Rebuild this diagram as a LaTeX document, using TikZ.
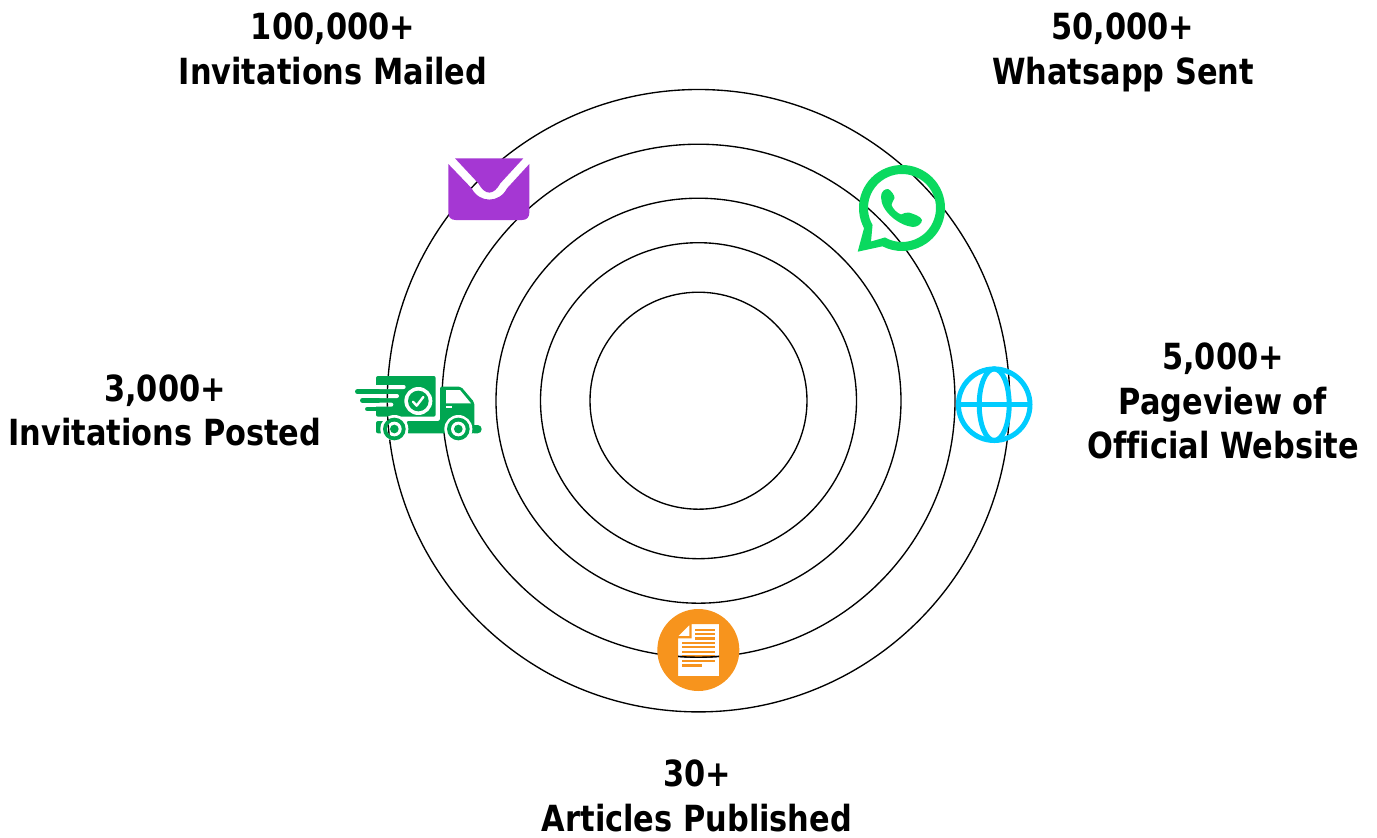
\documentclass[tikz,border=0pt]{standalone}
\usepackage{fontspec}
\usetikzlibrary{calc}
\setmainfont[FakeStretch=0.845,Ligatures=CommonOff]{DejaVu Sans Bold}
\definecolor{mailc}{HTML}{A537D3}
\definecolor{wac}{HTML}{0AD95F}
\definecolor{globec}{HTML}{00CCFF}
\definecolor{truckc}{HTML}{00A651}
\definecolor{docc}{HTML}{F7941D}
\tikzset{
  ring/.style={draw=black,line width=1.35pt},
  lbl/.style={align=center,inner sep=0pt,font=\fontsize{36}{44.5}\selectfont},
  zoomed/.style={scale=0.33333},
  bar/.style={draw=truckc,line width=4.6pt,line cap=round},
  docline/.style={fill=docc}
}
\begin{document}
\begin{tikzpicture}[x=1pt,y=1pt,yscale=-1]
\useasboundingbox (0,0) rectangle (1377,838);
\coordinate (c) at (698.5,400.7);
\foreach \r in {311.2,256.5,202.5,158,108.5}{\draw[ring] (c) circle[radius=\r];}
% mail
\begin{scope}[shift={(430,140)},zoomed]
  \fill[mailc] (75,55) -- (280,55) -- (211,130) .. controls (191,167) and (165,167) .. (145,130) -- cycle;
  \fill[mailc] (55,72) -- (125,145) .. controls (148,190) and (208,190) .. (231,145) -- (298,72) -- (298,218) .. controls (298,232) and (290,240) .. (276,240) -- (77,240) .. controls (63,240) and (55,232) .. (55,218) -- cycle;
\end{scope}
% whatsapp
\fill[wac,even odd rule] (902,208) ++(152:43) arc[start angle=152,end angle=477,radius=43] -- (857.7,251.7) -- cycle
  (902,208) ++(150:34) arc[start angle=150,end angle=480,radius=34] -- (871,241.5) -- cycle;
\fill[wac] (881,197) .. controls (881,191) and (885,189) .. (888,189) .. controls (891,190) and (895,196) .. (894.5,198) .. controls (894,201) and (891,203) .. (891.5,205) .. controls (893,209) and (897,213) .. (901,214.5) .. controls (904,214) and (906,211.5) .. (909,212.5) .. controls (913,214) and (921,216) .. (922,220) .. controls (922,224) and (917,227) .. (913,227) .. controls (900,226) and (881,212) .. (881,197) -- cycle;
% globe
\coordinate (g) at (994.2,404.7);
\draw[globec,line width=5pt] (g) circle[radius=35.8];
\draw[globec,line width=5pt] (g) ellipse[x radius=15,y radius=35.8];
\draw[globec,line width=5pt] ($(g)+(-35,0)$) -- ($(g)+(35,0)$);
% truck
\begin{scope}[shift={(345,365)},zoomed]
  \fill[truckc,rounded corners=2pt] (93,33) rectangle (272,155);
  \fill[white,rounded corners=2pt] (80,60) rectangle (182,72);
  \fill[white,rounded corners=2pt] (80,87) rectangle (162,99);
  \fill[white,rounded corners=2pt] (80,113) rectangle (145,125);
  \fill[white] (80,140) rectangle (93,160);
  \draw[bar] (37,80) -- (100,80);
  \draw[bar] (52,106) -- (100,106);
  \draw[bar] (67,132) -- (100,132);
  \fill[white] (220,108) circle[radius=42];
  \fill[truckc] (220,108) circle[radius=31];
  \draw[white,line width=2.4pt,line cap=round,line join=round] (204,110) -- (215,122) -- (235,96);
  % cab and chassis
  \fill[truckc,rounded corners=2pt] (285,65) -- (348,65) -- (388,112) -- (388,205) -- (185,205) -- (185,168) -- (285,168) -- cycle;
  \fill[truckc,rounded corners=2pt] (93,168) rectangle (125,205);
  \fill[truckc,rounded corners=4pt] (375,180) rectangle (410,205);
  \fill[white] (303,75) -- (345,75) -- (378,115) -- (303,115) -- cycle;
  \fill[white] (303,124) rectangle (320,128);
  \foreach \wx in {148,340}{
    \fill[white] (\wx,192) circle[radius=42];
    \fill[truckc] (\wx,192) circle[radius=34];
    \fill[white] (\wx,192) circle[radius=22];
    \fill[truckc] (\wx,192) circle[radius=13];
  }
\end{scope}
% document
\begin{scope}[shift={(645,600)},zoomed]
  \fill[docc,even odd rule] (160,150) circle[radius=123]
    (140,72) -- (222,72) -- (222,228) -- (99,228) -- (99,115) -- (140,115) -- cycle
    (133,75) -- (133,108) -- (100,108) -- cycle;
  \foreach \yy in {90,102,115}{\fill[docline] (150,\yy-3.5) rectangle (210,\yy+3.5);}
  \foreach \yy in {128,141,155,168,182}{\fill[docline] (112,\yy-3.5) rectangle (210,\yy+3.5);}
  \fill[docline] (112,192.5) rectangle (170,199.5);
\end{scope}
% circle lines seen through the holes of the icons
\begin{scope}
  \clip[shift={(345,365)},zoomed] (120,60) rectangle (140,72) (120,87) rectangle (140,99) (120,113) rectangle (140,125) (120,155) rectangle (140,166) (125,224) rectangle (145,236) (148,192) circle[radius=22];
  \draw[ring] (c) circle[radius=311.2];
\end{scope}
\begin{scope}
  \clip (471.5,181.5) rectangle (477,188);
  \draw[ring] (c) circle[radius=256.5];
\end{scope}
\begin{scope}
  \clip (678,640) rectangle (719,676);
  \draw[ring] (c) circle[radius=256.5];
\end{scope}
% labels
\node[lbl] (mailed) at (333,49) {100,000+\\Invitations Mailed};
\node[lbl] (whatsapp) at (1123,52.5) {50,000+\\Whatsapp Sent};
\node[lbl] (website) at (1223,401) {5,000+\\Pageview of\\Official Website};
\node[lbl] (posted) at (165,410.5) {3,000+\\Invitations Posted};
\node[lbl] (articles) at (697,796) {30+\\Articles Published};
\end{tikzpicture}
\end{document}
